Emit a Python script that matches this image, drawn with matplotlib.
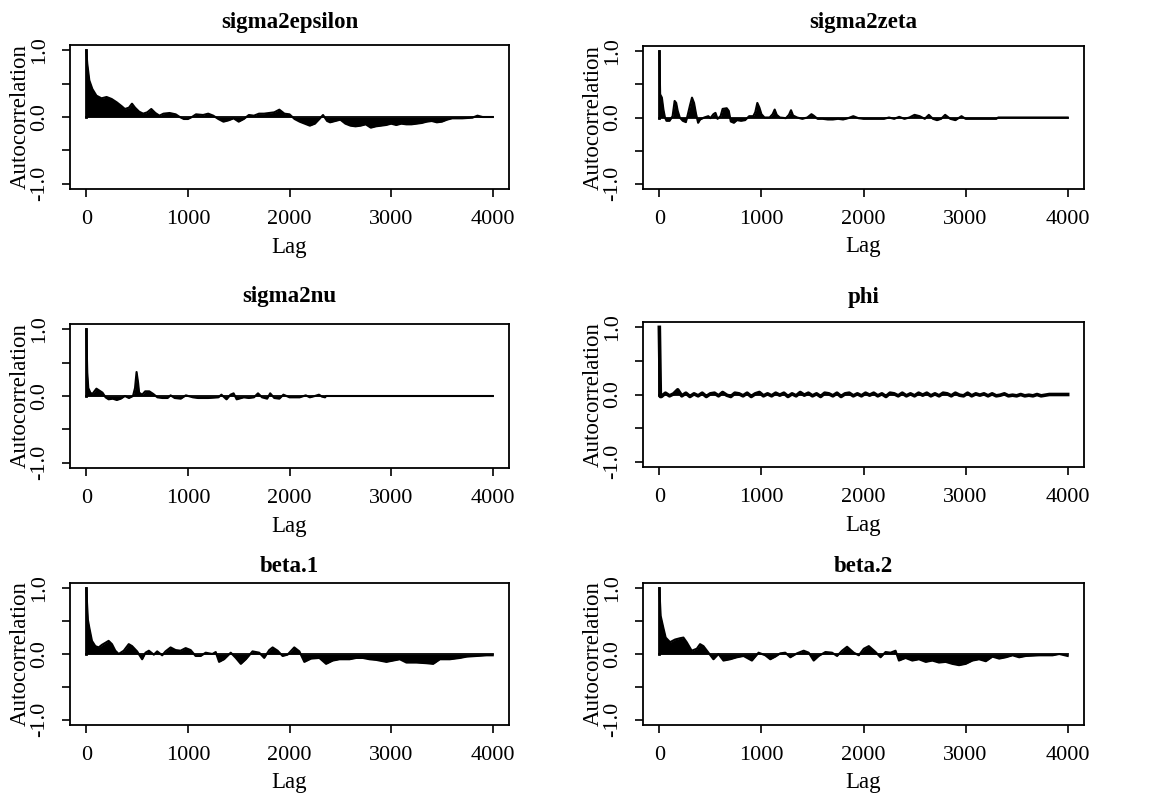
import numpy as np
import matplotlib
matplotlib.use("Agg")
import matplotlib.pyplot as plt

plt.rcParams['font.family'] = ['Liberation Serif', 'DejaVu Serif']

# autocorrelation (lag, value)
eps_lag = [0, 10, 30, 60, 100, 150, 200, 250, 300, 350, 380, 420, 450, 480, 520, 560, 600, 640,
           680, 720, 760, 820, 880, 920, 960, 1000, 1040, 1080, 1150, 1200, 1250, 1300, 1350, 1400,
           1450, 1500, 1550, 1600, 1650, 1700, 1750, 1800, 1850, 1900, 1950, 2000, 2050, 2100, 2150,
           2200, 2250, 2300, 2330, 2370, 2400, 2450, 2500, 2550, 2600, 2650, 2700, 2750, 2800, 2850,
           2900, 2950, 3000, 3050, 3100, 3150, 3200, 3250, 3300, 3350, 3400, 3450, 3500, 3550, 3600,
           3700, 3800, 3850, 3900, 4000]
eps_acf = [1.0, 0.80, 0.55, 0.42, 0.32, 0.28, 0.30, 0.27, 0.22, 0.16, 0.12, 0.14, 0.20, 0.14, 0.08,
           0.05, 0.07, 0.12, 0.06, 0.02, 0.05, 0.06, 0.04, 0.00, -0.03, -0.03, 0.00, 0.04, 0.03, 0.05,
           0.02, -0.03, -0.07, -0.05, -0.02, -0.07, -0.03, 0.03, 0.02, 0.05, 0.05, 0.06, 0.07, 0.11,
           0.05, 0.04, -0.03, -0.07, -0.10, -0.13, -0.10, -0.02, 0.03, -0.06, -0.08, -0.06, -0.04,
           -0.10, -0.13, -0.14, -0.13, -0.11, -0.16, -0.14, -0.13, -0.12, -0.10, -0.12, -0.10, -0.11,
           -0.11, -0.10, -0.09, -0.07, -0.06, -0.08, -0.07, -0.04, -0.02, -0.02, -0.01, 0.02, 0.00, 0.00]

zeta_lag = [0, 8, 25, 40, 55, 70, 100, 130, 150, 165, 180, 200, 230, 260, 280, 300, 320, 340, 360,
            380, 400, 440, 480, 500, 530, 550, 570, 600, 620, 660, 680, 700, 730, 760, 800, 840, 880,
            920, 940, 960, 980, 1000, 1030, 1080, 1110, 1130, 1150, 1180, 1240, 1270, 1290, 1310,
            1350, 1400, 1450, 1490, 1510, 1550, 1600, 1650, 1700, 1750, 1800, 1850, 1900, 1950, 2000,
            2100, 2200, 2250, 2300, 2350, 2400, 2450, 2500, 2550, 2600, 2640, 2680, 2720, 2760, 2800,
            2850, 2900, 2960, 3000, 3100, 3200, 3300, 3320, 4000]
zeta_acf = [1.0, 0.35, 0.30, 0.12, 0.00, -0.05, -0.05, 0.02, 0.25, 0.22, 0.10, 0.00, -0.05, -0.07,
            0.05, 0.18, 0.30, 0.22, 0.05, -0.08, -0.03, 0.00, 0.02, -0.01, 0.05, 0.07, -0.02, 0.02,
            0.13, 0.14, 0.10, -0.06, -0.08, -0.04, -0.05, -0.04, 0.02, 0.02, 0.08, 0.22, 0.15, 0.05,
            0.00, 0.00, 0.05, 0.12, 0.04, 0.00, -0.01, 0.04, 0.11, 0.03, 0.00, -0.02, 0.00, 0.05, 0.03,
            -0.02, -0.02, -0.03, -0.03, -0.02, -0.03, -0.01, 0.02, -0.01, -0.02, -0.02, -0.02, 0.00,
            -0.02, 0.01, -0.02, 0.00, 0.04, 0.02, -0.02, 0.04, -0.02, -0.04, -0.02, 0.04, -0.02, -0.04,
            0.02, -0.02, -0.02, -0.02, -0.02, 0.00, 0.00]

nu_lag = [0, 10, 20, 40, 60, 100, 130, 160, 190, 220, 260, 300, 340, 380, 420, 460, 480, 495, 510,
          520, 550, 580, 620, 660, 700, 750, 800, 830, 870, 930, 980, 1050, 1100, 1200, 1300, 1330,
          1380, 1420, 1450, 1480, 1550, 1600, 1650, 1690, 1730, 1780, 1810, 1850, 1900, 1940, 2000,
          2100, 2160, 2200, 2250, 2290, 2320, 2350, 2360, 4000]
nu_acf = [1.0, 0.35, 0.12, 0.05, 0.03, 0.11, 0.08, 0.05, -0.02, -0.05, -0.04, -0.06, -0.04, 0.00,
          -0.03, 0.00, 0.12, 0.36, 0.20, 0.05, 0.02, 0.07, 0.07, 0.03, -0.02, -0.03, -0.03, 0.01,
          -0.03, -0.04, 0.01, -0.02, -0.03, -0.03, -0.02, 0.02, -0.05, 0.02, 0.04, -0.05, -0.02,
          -0.03, -0.02, 0.04, -0.02, -0.04, 0.04, -0.03, -0.04, 0.02, -0.02, -0.02, 0.01, -0.02,
          0.00, 0.02, -0.01, -0.02, 0.00, 0.00]

phi_lag = [0, 10] + list(range(20, 3821, 40)) + [3860, 4000]
phi_acf = [1.0, -0.03,
           -0.03, 0.02, -0.02, 0.01, 0.07, -0.02, 0.02, -0.03, 0.01, -0.02,
           0.02, -0.03, 0.01, 0.02, -0.02, 0.03, -0.01, -0.03, 0.02, 0.01,
           -0.02, 0.02, -0.03, 0.01, 0.03, -0.02, 0.01, -0.02, 0.02, -0.01,
           0.02, -0.03, 0.01, -0.02, 0.03, -0.01, 0.02, -0.02, 0.01, -0.03,
           0.02, 0.01, -0.02, 0.02, -0.03, 0.01, 0.02, -0.02, 0.01, -0.02,
           0.02, -0.01, 0.02, -0.02, 0.01, -0.03, 0.02, 0.01, -0.02, 0.02,
           -0.02, 0.01, -0.02, 0.02, -0.01, 0.02, -0.02, 0.01, -0.02, 0.02,
           0.01, -0.02, 0.02, -0.01, -0.02, 0.02, -0.02, 0.01, -0.01, 0.01,
           -0.02, 0.01, -0.02, -0.01, 0.01, -0.02, -0.01, -0.02, 0.00, -0.02,
           -0.01, -0.02, 0.00, -0.02, -0.01, 0.00,
           0.00, 0.00]

b1_lag = [0, 16, 30, 56, 89, 122, 155, 188, 220, 253, 286, 319, 369, 418, 451, 500, 550, 583, 616,
          665, 698, 747, 780, 830, 879, 928, 978, 1027, 1076, 1126, 1175, 1241, 1274, 1307, 1356,
          1422, 1472, 1521, 1570, 1636, 1702, 1751, 1801, 1834, 1883, 1932, 1981, 2047, 2097, 2146,
          2212, 2294, 2360, 2426, 2492, 2591, 2657, 2722, 2788, 2854, 2953, 3019, 3085, 3150, 3249,
          3348, 3414, 3480, 3578, 3677, 3743, 3842, 3940, 4000]
b1_acf = [1.0, 0.52, 0.40, 0.20, 0.12, 0.10, 0.14, 0.17, 0.20, 0.15, 0.05, 0.00, 0.05, 0.15, 0.12,
          0.04, -0.08, 0.02, 0.05, -0.01, 0.04, -0.02, 0.04, 0.10, 0.06, 0.05, 0.09, 0.06, -0.03,
          -0.03, 0.02, 0.00, 0.03, -0.12, -0.08, 0.02, -0.06, -0.15, -0.08, 0.04, 0.02, -0.06, 0.06,
          0.10, 0.05, -0.03, -0.01, 0.10, 0.04, -0.12, -0.07, -0.06, -0.15, -0.10, -0.08, -0.08,
          -0.06, -0.06, -0.08, -0.09, -0.12, -0.10, -0.08, -0.13, -0.13, -0.14, -0.15, -0.08, -0.08,
          -0.06, -0.04, -0.03, -0.02, -0.02]

b2_lag = [0, 13, 39, 62, 105, 154, 203, 236, 268, 317, 367, 399, 432, 481, 530, 579, 628, 694, 759,
          825, 907, 972, 1038, 1087, 1136, 1185, 1234, 1283, 1349, 1414, 1463, 1512, 1561, 1627,
          1692, 1741, 1790, 1839, 1905, 1954, 2003, 2052, 2118, 2167, 2216, 2265, 2314, 2347, 2412,
          2478, 2543, 2609, 2674, 2739, 2805, 2870, 2936, 3001, 3067, 3132, 3198, 3263, 3329, 3394,
          3460, 3525, 3590, 3721, 3852, 3918, 4000]
b2_acf = [1.0, 0.58, 0.40, 0.25, 0.18, 0.22, 0.24, 0.25, 0.18, 0.05, 0.08, 0.15, 0.12, 0.02, -0.08,
          0.00, -0.10, -0.08, -0.05, -0.03, -0.10, 0.02, -0.02, -0.08, -0.04, 0.01, 0.02, -0.05,
          0.01, 0.05, 0.02, -0.10, -0.03, 0.03, 0.02, -0.03, 0.05, 0.11, 0.02, -0.02, 0.08, 0.12,
          0.03, -0.05, 0.03, 0.02, 0.05, -0.10, -0.06, -0.10, -0.08, -0.12, -0.10, -0.13, -0.12,
          -0.15, -0.17, -0.15, -0.10, -0.08, -0.11, -0.04, -0.07, -0.05, -0.02, -0.05, -0.03, -0.02,
          -0.02, 0.00, -0.03]

titles = ['sigma2epsilon', 'sigma2zeta', 'sigma2nu', 'phi', 'beta.1', 'beta.2']
lags = [eps_lag, zeta_lag, nu_lag, phi_lag, b1_lag, b2_lag]
acfs = [eps_acf, zeta_acf, nu_acf, phi_acf, b1_acf, b2_acf]

W, H = 1157, 799
fig = plt.figure(figsize=(W / 100, H / 100), dpi=100)

# axes boxes in pixels: left, top, right, bottom
boxes = [(70, 45, 509, 189), (643, 46, 1084, 189),
         (70, 324, 509, 468), (643, 322, 1084, 467),
         (70, 583, 509, 725), (643, 583, 1084, 725)]
title_pads = [17, 18, 22, 19, 11, 11]

for i in range(6):
    l, t, r, b = boxes[i]
    ax = fig.add_axes([l / W, 1 - b / H, (r - l) / W, (b - t) / H])
    x = np.array(lags[i])
    y = np.array(acfs[i])
    lw = 2.6 if titles[i] == 'phi' else 1.5
    ax.fill_between(x, y, 0, color='black', lw=0)
    ax.plot(x, y, color='black', lw=lw)
    ax.plot(x, np.zeros_like(y), color='black', lw=1.3)
    ax.plot([x[0], x[0]], [0, y[0]], color='black', lw=2.0)
    ax.set_xlim(-160, 4160)
    ax.set_ylim(-1.08, 1.08)
    ax.set_xticks([0, 1000, 2000, 3000, 4000])
    ax.set_xticklabels(['0', '1000', '2000', '3000', '4000'], fontsize=16)
    ax.set_yticks([-1.0, -0.5, 0.0, 0.5, 1.0])
    ax.set_yticklabels(['-1.0', '', '0.0', '', '1.0'], fontsize=16, rotation=90, va='center')
    ax.tick_params(direction='out', length=6, width=1.2, pad=9)
    for s in ax.spines.values():
        s.set_linewidth(1.3)
    ax.set_title(titles[i], fontsize=16.5, fontweight='bold', pad=title_pads[i] * 0.72)
    ax.set_xlabel('Lag', fontsize=16.5)
    ax.set_ylabel('Autocorrelation', fontsize=16.5)
    ax.xaxis.set_label_coords(0.5, -0.33)
    ax.yaxis.set_label_coords(-0.09, 0.5)

fig.savefig('out.png', dpi=100)
